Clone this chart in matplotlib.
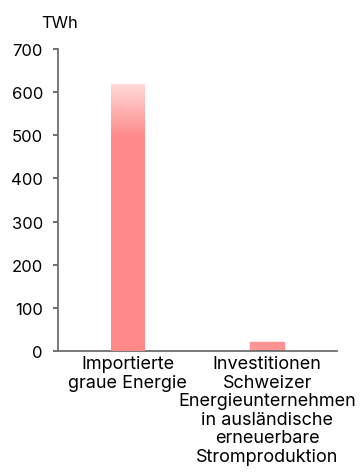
import numpy as np
import matplotlib
matplotlib.use("Agg")
import matplotlib.pyplot as plt
from matplotlib.colors import LinearSegmentedColormap

categories = ["Importierte\ngraue Energie",
              "Investitionen\nSchweizer\nEnergieunternehmen\nin ausländische\nerneuerbare\nStromproduktion"]
values = [620, 20]
yticks = [0, 100, 200, 300, 400, 500, 600, 700]
unit = "TWh"

plt.rcParams['font.family'] = ['Inter', 'DejaVu Sans']

fig = plt.figure(figsize=(3.6, 4.77), dpi=100)
ax = fig.add_axes([0.161, 0.262, 0.775, 0.633])

bar_color = "#ff8a8a"
bars = ax.bar(range(len(values)), values, width=0.24, color=bar_color, zorder=2)
bars[1].set_color("#ff9393")

# fade the top of the first bar towards a pale pink
b = bars[0]
x0, w, h = b.get_x(), b.get_width(), b.get_height()
cmap = LinearSegmentedColormap.from_list("fade", [(0.0, bar_color), (0.80, bar_color), (1.0, "#ffdada")])
grad = np.linspace(0, 1, 256).reshape(-1, 1)
im = ax.imshow(grad, cmap=cmap, aspect="auto", origin="lower",
               extent=[x0, x0 + w, 0, h], zorder=3)
im.set_clip_path(b)

ax.set_xlim(-0.5, 1.5)
ax.set_ylim(0, 700)
ax.set_yticks(yticks)
ax.set_xticks(range(len(categories)))
ax.set_xticklabels(categories, fontsize=13, color="#000000", linespacing=1.12)
ax.tick_params(axis='x', length=0, pad=3)
ax.tick_params(axis='y', length=3.8, width=1.2, color="#555555", labelsize=12, pad=7, labelcolor="#000000")

for s in ["top", "right"]:
    ax.spines[s].set_visible(False)
for s in ["left", "bottom"]:
    ax.spines[s].set_color("#6e6e6e")
    ax.spines[s].set_linewidth(1.3)

fig.text(0.114, 0.951, unit, fontsize=12, color="#000000", va="center")

fig.savefig("out.png", dpi=100)
